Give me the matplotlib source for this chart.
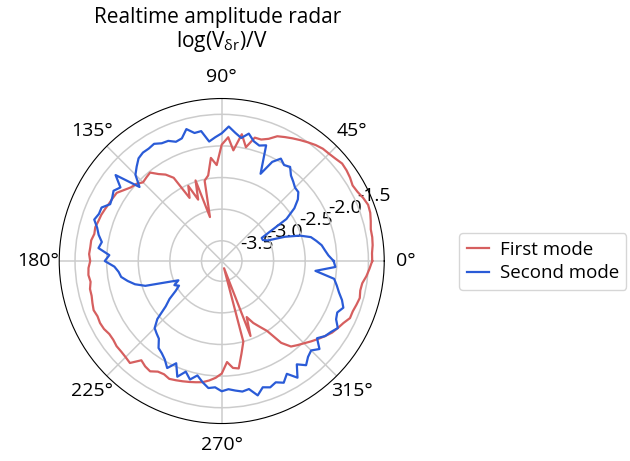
import numpy as np
import matplotlib
matplotlib.use("Agg")
import matplotlib.pyplot as plt

plt.rcParams['font.family'] = ['Open Sans', 'DejaVu Sans']
plt.rcParams['mathtext.fontset'] = 'custom'
plt.rcParams['mathtext.rm'] = 'Open Sans'
plt.rcParams['mathtext.it'] = 'Open Sans'
plt.rcParams['axes.unicode_minus'] = False

# angles in degrees, one sample every 3 degrees
angles_deg = np.arange(0, 360, 3)

# log amplitude of first mode
first_mode = [
    -1.44, -1.44, -1.42, -1.41, -1.41, -1.38, -1.35, -1.34, -1.37, -1.41,
    -1.43, -1.40, -1.38, -1.37, -1.40, -1.42, -1.43, -1.46, -1.50, -1.54,
    -1.58, -1.62, -1.66, -1.75, -1.80, -1.80, -1.98, -1.79, -2.06, -1.86,
    -1.98, -2.30, -2.18, -2.45, -2.52, -3.10, -2.48, -2.78, -2.52, -2.70,
    -2.30, -2.19, -2.12, -2.02, -2.04, -2.06, -2.00, -1.97, -1.91, -1.84,
    -1.83, -1.82, -1.80, -1.78, -1.77, -1.75, -1.76, -1.73, -1.73, -1.72,
    -1.74, -1.71, -1.70, -1.72, -1.69, -1.69, -1.67, -1.65, -1.67, -1.66,
    -1.67, -1.70, -1.70, -1.68, -1.68, -1.67, -1.65, -1.80, -1.76, -1.74,
    -1.80, -1.81, -1.78, -1.80, -1.82, -1.84, -1.86, -1.88, -1.92, -1.97,
    -2.04, -2.22, -2.12, -2.10, -2.32, -2.50, -3.70, -2.55, -2.85, -2.72,
    -2.62, -2.50, -2.22, -2.08, -2.03, -1.98, -1.92, -1.86, -1.80, -1.74,
    -1.70, -1.66, -1.60, -1.60, -1.58, -1.56, -1.58, -1.57, -1.52, -1.48,
]

# log amplitude of second mode
second_mode = [
    -2.05, -2.13, -2.18, -2.22, -2.29, -2.36, -2.52, -2.75, -3.02, -3.09,
    -3.09, -2.60, -2.40, -2.27, -2.19, -2.18, -2.13, -2.08, -1.98, -2.01,
    -1.95, -2.06, -2.31, -1.86, -1.90, -1.86, -1.76, -1.85, -1.78, -1.69,
    -1.80, -1.86, -1.92, -1.74, -1.75, -1.66, -1.78, -1.80, -1.74, -1.73,
    -1.68, -1.70, -1.70, -1.73, -1.81, -1.89, -2.07, -1.66, -1.84, -1.78,
    -1.82, -1.84, -1.74, -1.74, -1.70, -1.78, -1.83, -1.90, -1.86, -2.04,
    -1.97, -2.12, -2.18, -2.21, -2.30, -2.40, -2.55, -2.88, -3.07, -2.98,
    -3.04, -2.95, -2.80, -2.68, -2.45, -2.32, -2.28, -2.24, -2.12, -2.08,
    -2.02, -1.92, -2.05, -1.86, -1.98, -1.88, -1.97, -1.88, -1.80, -1.82,
    -1.76, -1.79, -1.76, -1.73, -1.75, -1.62, -1.72, -1.68, -1.72, -1.66,
    -1.76, -1.62, -1.80, -1.70, -1.78, -1.82, -1.74, -1.88, -1.80, -1.76,
    -1.70, -1.79, -1.82, -1.76, -1.82, -1.90, -1.96, -2.02, -2.33, -2.02,
]

# close the loops
theta = np.deg2rad(np.append(angles_deg, angles_deg[0]))
r1 = np.append(first_mode, first_mode[0])
r2 = np.append(second_mode, second_mode[0])

fig = plt.figure(figsize=(6.3, 4.61), dpi=100)
ax = fig.add_axes([0.094, 0.0813, 0.5159, 0.705], projection='polar')

ax.plot(theta, r1, color='#d65f5f', lw=1.6, label='First mode')
ax.plot(theta, r2, color='#2a5bd7', lw=1.6, label='Second mode')

ax.set_ylim(-3.82, -1.25)
ax.set_yticks([-3.5, -3.0, -2.5, -2.0, -1.5])
ax.set_yticklabels(['-3.5', '-3.0', '-2.5', '-2.0', '-1.5'])
ax.grid(color='#cccccc', lw=1.1)
ax.tick_params(labelsize=14)
ax.tick_params(axis='x', pad=5)

fig.text(0.346, 0.963, 'Realtime amplitude radar', ha='center', va='center', fontsize=15)
fig.text(0.352, 0.909, r'log(V$_{\delta\mathrm{r}}$)/V', ha='center', va='center', fontsize=15)

fig.legend(loc='center left', bbox_to_anchor=(0.714, 0.433), fontsize=13.5,
           handlelength=1.2, handletextpad=0.55, labelspacing=0.3)

fig.savefig('out.png', dpi=100)
